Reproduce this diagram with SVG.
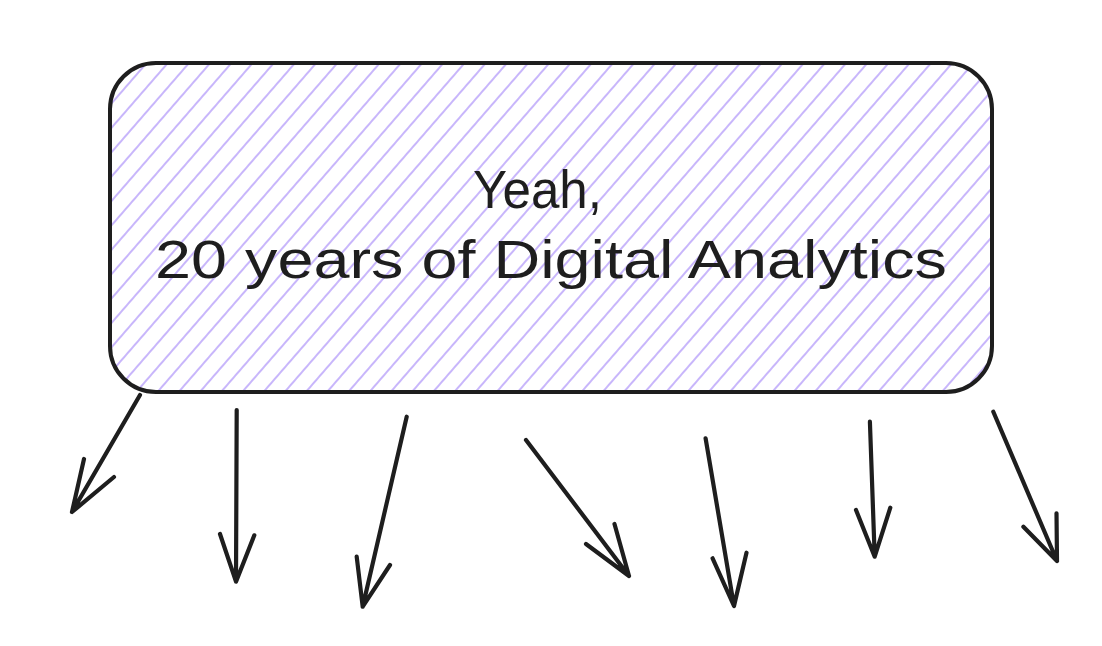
<svg xmlns="http://www.w3.org/2000/svg" width="1102" height="646" viewBox="0 0 1102 646">
  <style>
    .box { stroke: #1e1e1e; stroke-width: 4; fill: url(#hatch); }
    .arrow { stroke: #1e1e1e; stroke-width: 4.2; fill: none; stroke-linecap: round; stroke-linejoin: round; }
    .label { font-family: "Liberation Sans", Arial, sans-serif; font-size: 53px; fill: #1e1e1e; }
  </style>
  <defs>
    <pattern id="hatch" patternUnits="userSpaceOnUse" width="16" height="16" patternTransform="rotate(-49)">
      <rect width="16" height="16" fill="#ffffff"/>
      <line x1="0" y1="8" x2="16" y2="8" stroke="#c8b6fb" stroke-width="2"/>
    </pattern>
  </defs>
  <rect width="1102" height="646" fill="#ffffff"/>
  <g id="node-main">
    <rect class="box" x="110" y="63" width="882" height="329" rx="46" ry="46"/>
    <text class="label" x="473" y="208" textLength="129" lengthAdjust="spacingAndGlyphs">Yeah,</text>
    <text class="label" x="155" y="278" textLength="792" lengthAdjust="spacingAndGlyphs">20 years of Digital Analytics</text>
  </g>
  <g id="connectors">
    <path class="arrow" d="M140 395 L72 512 M84 459 L72 512 L114 477"/>
    <path class="arrow" d="M236.7 410 L236 581.7 M220 534 L236 581.7 L254.3 535.3"/>
    <path class="arrow" d="M406.7 416.7 L362.7 606.7 M356.7 556.7 L362.7 606.7 L390 565"/>
    <path class="arrow" d="M526 440 L629 576 M586 544 L629 576 L614.5 524"/>
    <path class="arrow" d="M705.6 438.3 L734 606 M712.6 558.3 L734 606 L746.5 552.7"/>
    <path class="arrow" d="M869.9 421.7 L874.7 556.7 M856 510 L874.7 556.7 L890.3 507.7"/>
    <path class="arrow" d="M993.3 411.7 L1057 561 M1023.4 526.7 L1057 561 L1056.5 513.3"/>
  </g>
</svg>
